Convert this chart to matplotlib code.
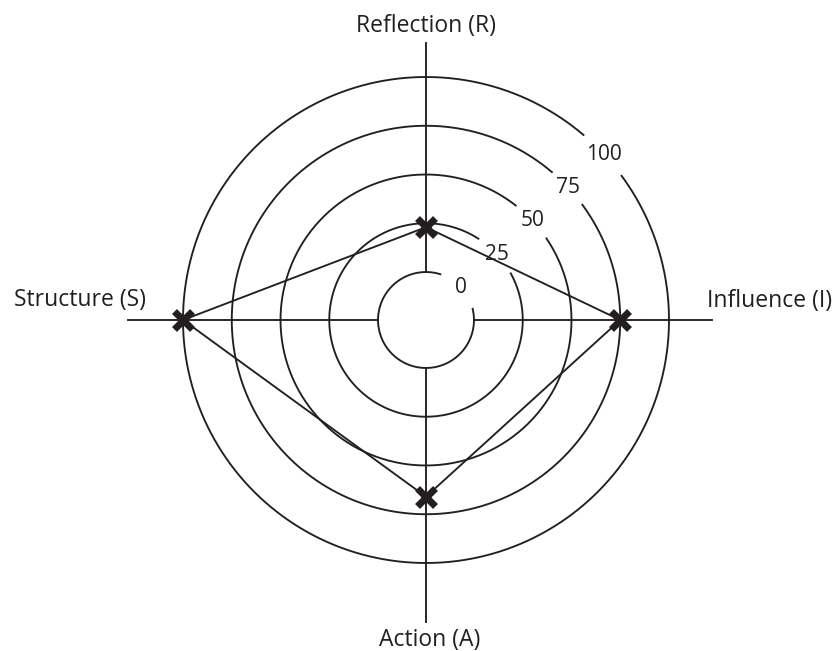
import numpy as np
import matplotlib
matplotlib.use('Agg')
import matplotlib.pyplot as plt

plt.rcParams['font.family'] = ['Open Sans', 'DejaVu Sans']

# Data
axis_names = ['Influence (I)', 'Reflection (R)', 'Structure (S)', 'Action (A)']
axis_angles = [0, 90, 180, 270]          # degrees, counter-clockwise from east
scores = [75, 23, 100, 66]
ring_levels = [0, 25, 50, 75, 100]
ring_labels = ['0', '25', '50', '75', '100']

# Styling / layout
ink = '#231f20'
lw = 1.35
axis_ends = [122, 117.5, 128, 130]      # how far each spoke runs (radial units)
label_offsets = [(58, 13), (0, 11), (-48, 14), (4, -24)]  # pixels from spoke end
gap_center = 43.0                        # degrees where ring labels sit
gap_half = [29.5, 14.2, 8.9, 6.6, 6.6]   # half width of the gap in each ring

fig = plt.figure(figsize=(8.4, 6.51), dpi=100)
R = 301.5
cx, cy = 426, 651 - 320
ax = fig.add_axes([(cx - R) / 840, (cy - R) / 651, 2 * R / 840, 2 * R / 651],
                  projection='polar')
ax.set_theta_zero_location('E')
ax.set_rorigin(-24.6)
ax.set_ylim(0, 130)
ax.set_axis_off()

# Rings with a gap for the labels
for lev, half in zip(ring_levels, gap_half):
    th = np.radians(np.linspace(gap_center + half, gap_center - half + 360, 400))
    ax.plot(th, np.full_like(th, lev), color=ink, lw=lw, clip_on=False)

# Spokes and axis titles
for name, ang, end, off in zip(axis_names, axis_angles, axis_ends, label_offsets):
    t = np.radians(ang)
    ax.plot([t, t], [0, end], color=ink, lw=lw, clip_on=False)
    ax.annotate(name, xy=(t, end), xytext=off, textcoords='offset pixels',
                ha='center', va='baseline', fontsize=16.5, color=ink,
                annotation_clip=False)

# Ring labels
for lev, lab in zip(ring_levels, ring_labels):
    ax.text(np.radians(gap_center), lev, lab, ha='center', va='center',
            fontsize=15, color=ink)

# Profile polygon
th = np.radians(axis_angles + axis_angles[:1])
vals = scores + scores[:1]
ax.plot(th, vals, color=ink, lw=lw, clip_on=False)
ax.plot(np.radians(axis_angles), scores, linestyle='none', marker='x',
        markersize=13, markeredgewidth=5, color=ink, clip_on=False, zorder=5)

fig.savefig('out.png', dpi=100)
